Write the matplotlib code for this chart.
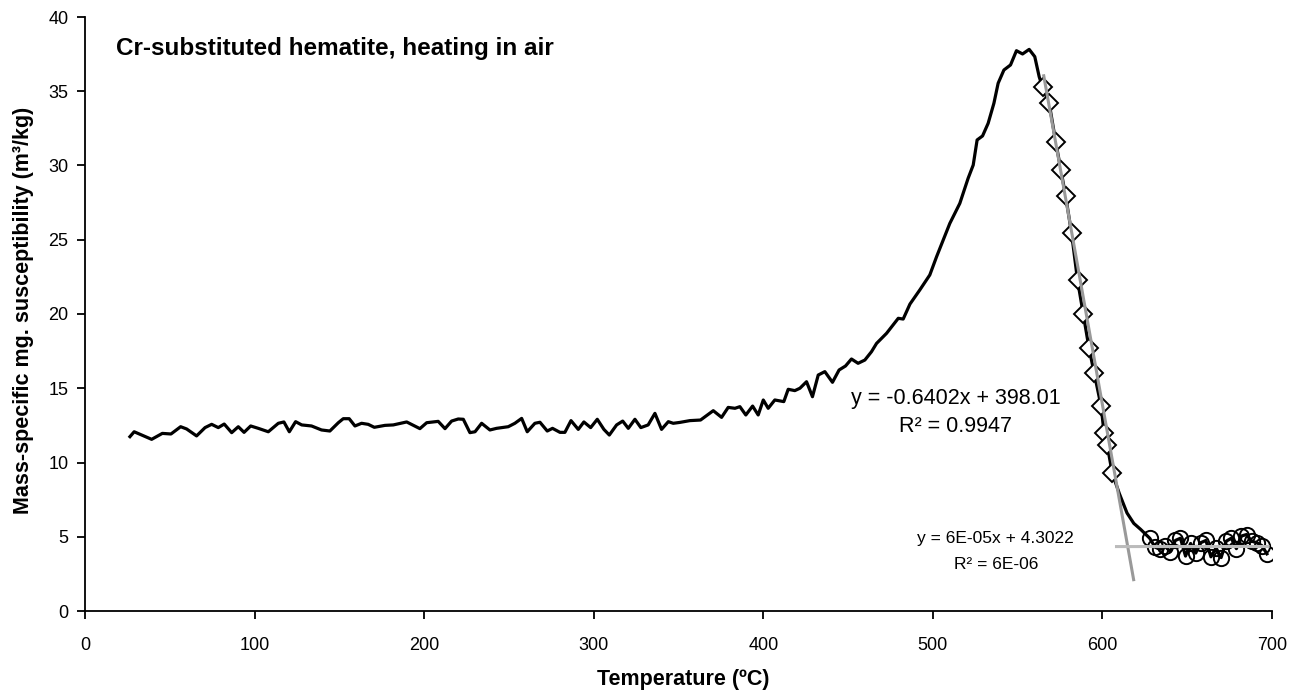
import numpy as np
import matplotlib
matplotlib.use('Agg')
import matplotlib.pyplot as plt

plt.rcParams['font.family'] = ['Liberation Sans', 'DejaVu Sans']

# 加热曲线（全程数据）
temp_main = [26.5, 29.0, 39.3, 45.6, 50.7, 56.4, 59.9, 65.8, 70.8, 74.7, 78.6, 82.1, 86.5, 90.4,
             93.8, 97.7, 102.2, 108.1, 114.0, 117.3, 120.5, 124.2, 127.8, 133.6, 139.5, 144.4,
             149.4, 152.3, 155.8, 159.2, 163.1, 167.0, 170.6, 176.9, 181.8, 189.7, 197.5, 201.5,
             208.3, 212.3, 216.2, 220.1, 223.1, 227.0, 230.0, 233.9, 238.8, 242.7, 249.6, 253.5,
             257.5, 260.8, 265.3, 268.3, 272.6, 275.7, 280.1, 283.0, 286.6, 290.9, 294.2, 298.2,
             302.1, 306.0, 309.2, 313.5, 317.1, 320.4, 324.3, 327.8, 332.1, 336.1, 340.0, 344.0,
             346.9, 350.8, 356.7, 363.0, 370.5, 375.4, 379.3, 383.3, 386.2, 389.7, 393.7, 397.0,
             400.0, 402.9, 406.8, 412.1, 414.7, 418.6, 421.6, 425.5, 429.0, 432.4, 436.3, 440.8,
             444.7, 448.5, 452.0, 455.9, 459.9, 463.8, 466.8, 472.7, 479.6, 482.5, 486.5, 492.3,
             498.2, 502.2, 510.0, 515.9, 520.8, 523.8, 526.1, 529.3, 532.6, 536.0, 538.5, 541.9,
             545.8, 549.3, 552.9, 556.8, 560.1, 562.7]
chi_main = [11.74, 12.07, 11.56, 11.96, 11.92, 12.41, 12.26, 11.79, 12.35, 12.57, 12.35, 12.59, 12.01, 12.41,
            12.03, 12.46, 12.30, 12.07, 12.64, 12.73, 12.07, 12.75, 12.53, 12.46, 12.19, 12.12,
            12.68, 12.95, 12.95, 12.46, 12.64, 12.57, 12.37, 12.50, 12.53, 12.73, 12.28, 12.68,
            12.77, 12.28, 12.79, 12.93, 12.91, 12.01, 12.07, 12.64, 12.19, 12.30, 12.41, 12.64,
            12.97, 12.07, 12.64, 12.71, 12.12, 12.30, 12.03, 12.03, 12.82, 12.23, 12.73, 12.35,
            12.91, 12.23, 11.85, 12.53, 12.79, 12.30, 12.91, 12.35, 12.53, 13.31, 12.23, 12.75,
            12.64, 12.70, 12.82, 12.86, 13.49, 13.04, 13.71, 13.65, 13.76, 13.20, 13.80, 13.20,
            14.21, 13.65, 14.21, 14.10, 14.93, 14.84, 15.00, 15.44, 14.43, 15.89, 16.12, 15.40,
            16.23, 16.50, 16.97, 16.68, 16.90, 17.46, 18.02, 18.70, 19.71, 19.66, 20.67, 21.62,
            22.63, 23.86, 26.10, 27.45, 29.14, 30.03, 31.72, 31.99, 32.84, 34.19, 35.54, 36.43,
            36.77, 37.73, 37.51, 37.82, 37.33, 35.98]

# 线性拟合段（菱形）
temp_fit1 = [564.7, 568.6, 572.5, 575.5, 578.3, 581.8, 585.3, 588.7, 592.1, 595.2, 599.2, 601.0, 602.8, 605.8]
chi_fit1 = [35.26, 34.19, 31.56, 29.70, 27.95, 25.43, 22.29, 20.00, 17.69, 16.00, 13.80, 11.97, 11.18, 9.27]

temp_tail = [610.0, 614.5, 618.5, 622.5]
chi_tail = [7.90, 6.60, 5.90, 5.50]

# 居里点以上（圆圈）
temp_fit2 = [627.9, 631, 634, 637, 640, 643, 646, 649, 652, 655, 658, 661, 664, 667, 670, 673,
             676, 679, 682, 685, 688, 691, 694, 697]
chi_fit2 = [4.90, 4.30, 4.15, 4.35, 4.00, 4.75, 4.90, 3.70, 4.55, 3.90, 4.60, 4.75, 3.65, 4.25,
            3.60, 4.70, 4.90, 4.20, 5.05, 5.15, 4.70, 4.60, 4.40, 3.85]

# 趋势线
slope1, icpt1 = -0.6402, 398.01
slope2, icpt2 = 6e-05, 4.3022
trend1_x = [565.4, 618.4]
trend2_x = [608.3, 697.7]

temp_all = temp_main + temp_fit1 + temp_tail + temp_fit2
chi_all = chi_main + chi_fit1 + chi_tail + chi_fit2

fig = plt.figure(figsize=(13, 6.95), dpi=100)
ax = fig.add_axes([85 / 1300, 1 - 611 / 695, (1272 - 85) / 1300, (611 - 17) / 695])

ax.plot(temp_all, chi_all, color='black', lw=2.3, zorder=2)
ax.plot(temp_fit1, chi_fit1, ls='none', marker='D', ms=9.5, mfc='white', mec='black', mew=1.4, zorder=3)
ax.plot(temp_fit2, chi_fit2, ls='none', marker='o', ms=11, mfc='none', mec='black', mew=1.4, zorder=3)

t1 = np.array(trend1_x)
ax.plot(t1, slope1 * t1 + icpt1, color='#999999', lw=2.2, zorder=4)
t2 = np.array(trend2_x)
ax.plot(t2, slope2 * t2 + icpt2, color='#bbbbbb', lw=2.2, zorder=4)

ax.set_xlim(0, 700)
ax.set_ylim(0, 40)
ax.set_xticks(range(0, 701, 100))
ax.set_yticks(range(0, 41, 5))
for s in ['top', 'right']:
    ax.spines[s].set_visible(False)
for s in ['left', 'bottom']:
    ax.spines[s].set_linewidth(1.3)
ax.tick_params(direction='out', length=6, width=1.3, labelsize=13, pad=6)
ax.tick_params(axis='x', pad=13)

ax.text(0.026, 0.967, 'Cr-substituted hematite, heating in air', transform=ax.transAxes,
        fontsize=17.5, fontweight='bold', ha='left', va='top')

ax.text(513.6, 14.34, 'y = -0.6402x + 398.01', fontsize=15.5, ha='center', va='center')
ax.text(513.6, 12.41, 'R² = 0.9947', fontsize=15.5, ha='center', va='center')
ax.text(537.0, 4.90, 'y = 6E-05x + 4.3022', fontsize=12.5, ha='center', va='center')
ax.text(537.5, 3.10, 'R² = 6E-06', fontsize=12.5, ha='center', va='center')

fig.text(683 / 1300, 1 - 680 / 695, 'Temperature (ºC)', fontsize=15.5, fontweight='bold',
         ha='center', va='center')
fig.text(24 / 1300, 1 - 310 / 695, 'Mass-specific mg. susceptibility (m³/kg)', fontsize=15.5,
         fontweight='bold', ha='center', va='center', rotation=90)

fig.savefig('out.png', dpi=100)
